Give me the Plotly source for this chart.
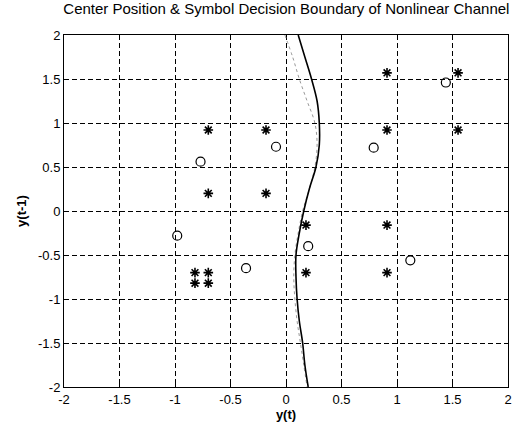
import plotly.graph_objects as go

# Star centres (class +1)
star_x = [-0.70, -0.70, -0.18, -0.18, 0.18, 0.18, 0.91, 1.55, 0.91, 1.55, 0.91, 0.91, -0.82, -0.70, -0.82, -0.70]
star_y = [0.92, 0.20, 0.92, 0.20, -0.16, -0.70, 1.57, 1.57, 0.92, 0.92, -0.16, -0.70, -0.70, -0.70, -0.82, -0.82]

# Circle centres (class -1)
circ_x = [-0.98, -0.77, -0.36, -0.09, 0.20, 0.79, 1.44, 1.12]
circ_y = [-0.28, 0.56, -0.65, 0.73, -0.40, 0.72, 1.46, -0.56]

# Decision boundaries (x as function of y)
bound_y = [2.0, 1.75, 1.5, 1.25, 1.0, 0.75, 0.5, 0.25, 0.0, -0.25, -0.5, -0.75, -1.0, -1.25, -1.5, -1.75, -2.0]
solid_x = [0.11, 0.17, 0.23, 0.28, 0.30, 0.30, 0.27, 0.21, 0.16, 0.12, 0.09, 0.09, 0.10, 0.12, 0.15, 0.17, 0.20]
grey_x = [-0.01, 0.06, 0.12, 0.19, 0.26, 0.28, 0.26, 0.21, 0.15, 0.11, 0.08, 0.07, 0.08, 0.10, 0.13, 0.16, 0.19]

ticks = [-2, -1.5, -1, -0.5, 0, 0.5, 1, 1.5, 2]
tick_text = ["-2", "-1.5", "-1", "-0.5", "0", "0.5", "1", "1.5", "2"]

fig = go.Figure()
fig.add_trace(go.Scatter(x=grey_x, y=bound_y, mode="lines", line=dict(color="#999999", width=1, dash="dot", shape="spline"), showlegend=False))
fig.add_trace(go.Scatter(x=solid_x, y=bound_y, mode="lines", line=dict(color="black", width=1.6, shape="spline"), showlegend=False))
fig.add_trace(go.Scatter(x=star_x, y=star_y, mode="markers",
                         marker=dict(symbol="asterisk-open", size=8, color="black", line=dict(color="black", width=1.6)), showlegend=False))
fig.add_trace(go.Scatter(x=circ_x, y=circ_y, mode="markers",
                         marker=dict(symbol="circle-open", size=9, color="black", line=dict(color="black", width=1.2)), showlegend=False))

font = dict(family="Liberation Sans, Arial, sans-serif", size=13, color="black")
axis_common = dict(range=[-2, 2], tickvals=ticks, ticktext=tick_text, showgrid=True, gridcolor="black",
                   griddash="5px,3px", gridwidth=1, zeroline=False, showline=True, linecolor="black", linewidth=1,
                   mirror=True, ticks="inside", ticklen=4, tickcolor="black", tickfont=font)
fig.update_layout(
    width=516, height=431, margin=dict(l=64, r=4, t=35, b=44),
    paper_bgcolor="white", plot_bgcolor="white",
    title=dict(text="Center Position & Symbol Decision Boundary of Nonlinear Channel", x=0.555, xanchor="center",
               y=0.993, yanchor="top", font=dict(family="Liberation Sans, Arial, sans-serif", size=15, color="black")),
    xaxis=dict(**axis_common, title=dict(text="<b>y(t)</b>", font=font, standoff=2)),
    yaxis=dict(**axis_common, title=dict(text="<b>y(t-1)</b>", font=font, standoff=8)),
)
fig.write_html("out.html")
